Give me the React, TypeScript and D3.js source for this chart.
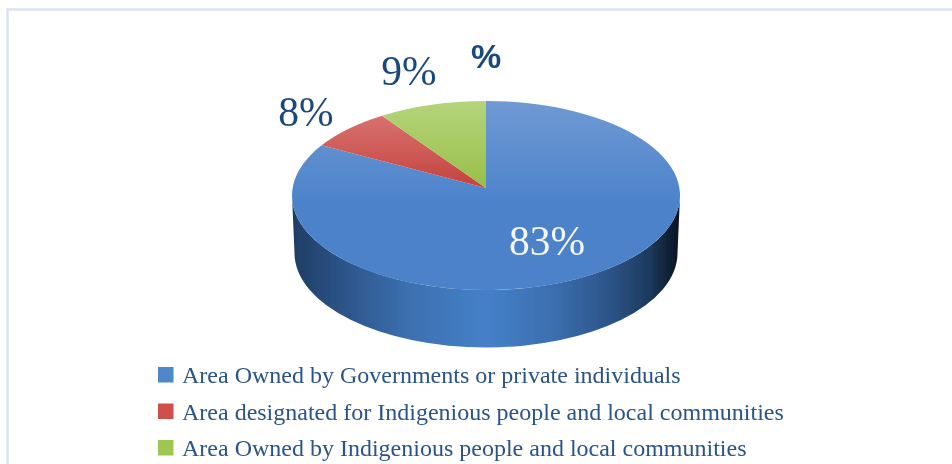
import React from "react";
import * as d3 from "d3";

const categories = [
  "Area Owned by Governments or private individuals",
  "Area designated for Indigenious people and local communities",
  "Area Owned by Indigenious people and local communities",
];
const sliceShares = [83.9, 7.1, 9.0];
const sliceLabels = ["83%", "8%", "9%"];
const swatchColors = ["#4f86cc", "#d0504c", "#9fc552"];

const W = 952, H = 464;
const CX = 486, CY = 195.5, RX = 194, RY = 94.5;
const APEX: [number, number] = [486, 188];
const DEPTH = 57.5;

const pt = (a: number): [number, number] => [CX + RX * Math.sin(a), CY - RY * Math.cos(a)];

const wedge = (s: number, e: number) => {
  const [x0, y0] = pt(s);
  const [x1, y1] = pt(e);
  const large = e - s > Math.PI ? 1 : 0;
  return `M${APEX[0]},${APEX[1]}L${x0},${y0}A${RX},${RY} 0 ${large} 1 ${x1},${y1}Z`;
};

const pie = d3.pie<number>().sort(null).value((d) => d)(sliceShares);
const legendY = d3.scalePoint<string>().domain(categories).range([375, 448]);

const sideStops: [number, string][] = [
  [0, "#1e3c63"],
  [0.12, "#2b5286"],
  [0.3, "#3c70b0"],
  [0.5, "#4580c8"],
  [0.68, "#3b6eae"],
  [0.82, "#2c5488"],
  [0.92, "#1d3a5f"],
  [1, "#08121d"],
];

const faceStops: [string, string][] = [
  ["#7099d4", "#4b82ca"],
  ["#dc7c78", "#c4423e"],
  ["#b5d47c", "#98bf48"],
];

export default function App() {
  const bl = CX - RX, br = CX + RX;
  const side = `M${bl},${CY}A${RX},${RY} 0 0 0 ${br},${CY}L${br - 2.5},${CY + DEPTH}A${RX - 2.5},${RY} 0 0 1 ${bl + 2.5},${CY + DEPTH}Z`;
  return (
    <svg width={W} height={H} viewBox={`0 0 ${W} ${H}`} style={{ position: "absolute", left: 0, top: 0, display: "block", background: "#fff" }}>
      <defs>
        <filter id="soft" x="-5%" y="-5%" width="110%" height="110%">
          <feGaussianBlur stdDeviation="0.45" />
        </filter>
        <linearGradient id="side" x1="0" x2="1" y1="0" y2="0">
          {sideStops.map(([o, c]) => <stop key={o} offset={o} stopColor={c} />)}
        </linearGradient>
        {faceStops.map(([a, b], i) => (
          <linearGradient key={i} id={`face${i}`} gradientUnits="userSpaceOnUse" x1="0" x2="0" y1={CY - RY} y2={i === 0 ? CY + 10 : APEX[1]}>
            <stop offset="0" stopColor={a} />
            <stop offset="1" stopColor={b} />
          </linearGradient>
        ))}
      </defs>
      <path d={`M7.5,${H}V9.5H${W}`} fill="none" stroke="#dbe5f1" strokeWidth={2.5} />
      <g filter="url(#soft)">
        <path d={side} fill="url(#side)" />
        {pie.map((p, i) => (
          <path key={i} d={wedge(p.startAngle, p.endAngle)} fill={`url(#face${i})`} />
        ))}
        <g fontFamily="'Liberation Serif', serif" fontSize={41.5} textAnchor="middle">
          <text x={547} y={255} fill="#f4f7fb">{sliceLabels[0]}</text>
          <text x={306} y={125.5} fill="#1f497d">{sliceLabels[1]}</text>
          <text x={409} y={85} fill="#1f497d">{sliceLabels[2]}</text>
        </g>
        <text x={486} y={68} textAnchor="middle" fontFamily="'Liberation Sans', sans-serif" fontWeight="bold" fontSize={34} fill="#1f497d">%</text>
        {categories.map((c, i) => {
          const y = legendY(c)!;
          return (
            <g key={c}>
              <rect x={158} y={y - 8} width={15.5} height={15.5} fill={swatchColors[i]} />
              <text x={182} y={y + 8} fontFamily="'Liberation Serif', serif" fontSize={24} fill="#2a5288">{c}</text>
            </g>
          );
        })}
      </g>
    </svg>
  );
}
